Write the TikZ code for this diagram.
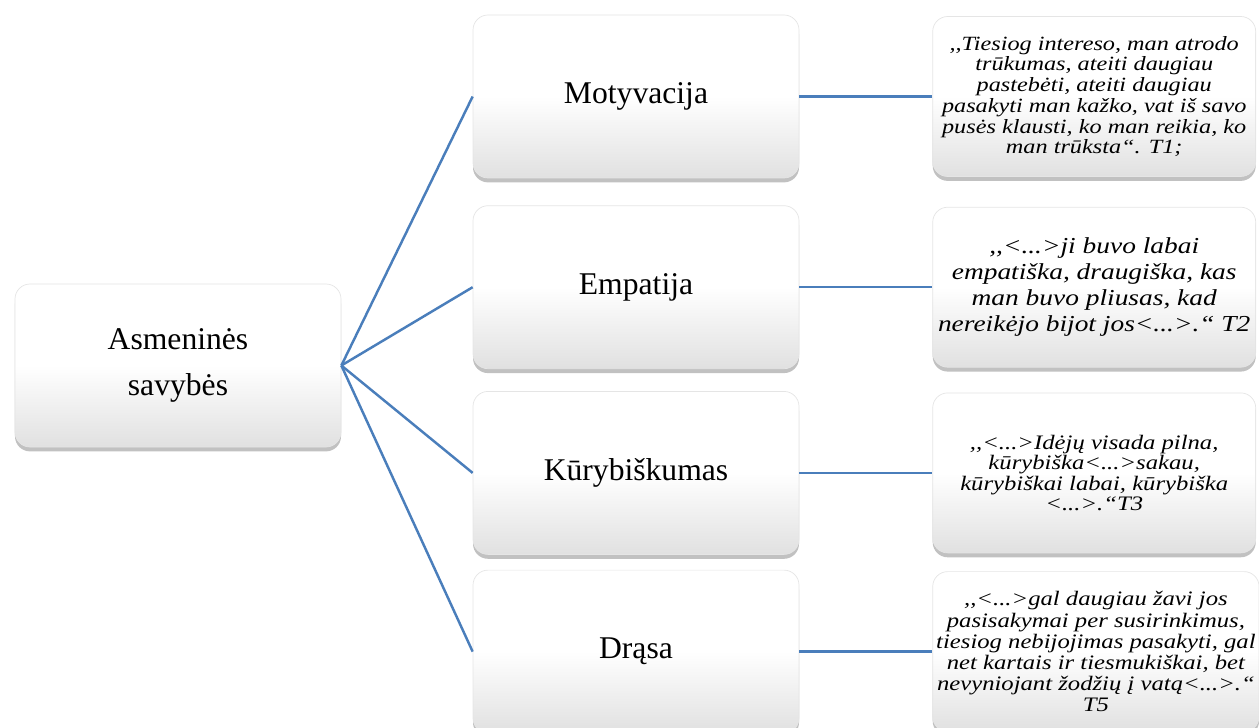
\documentclass[tikz,border=0pt]{standalone}
\usepackage{fontspec}
\setmainfont{Liberation Serif}
\newfontfamily\quotefont[FakeStretch=1.2]{Liberation Serif}
\usepackage{tikz}
\usetikzlibrary{positioning, shadows}
\definecolor{linkblue}{HTML}{4A7EBB}

\tikzset{
  box/.style={rectangle, rounded corners=0.3cm, minimum width=6.52cm, minimum height=3.26cm,
    draw=black!10, top color=white, bottom color=black!12, middle color=white,
    drop shadow={shadow xshift=0pt, shadow yshift=-2.5pt, fill=black!70, opacity=0.35},
    align=center, font=\fontsize{18}{26}\selectfont},
  quotebox/.style={box, minimum width=6.46cm, minimum height=3.2cm, inner sep=2pt},
  link/.style={draw=linkblue, line width=1.4pt}
}

\begin{document}
\begin{tikzpicture}
    \useasboundingbox (0,0) rectangle (25.18,-14.56);

    \node[box] (root) at (3.56,-7.31) {Asmeninės\\savybės};
    \node[box] (mot) at (12.72,-1.93) {Motyvacija};
    \node[box] (emp) [below=0.54cm of mot] {Empatija};
    \node[box] (kur) [below=0.44cm of emp] {Kūrybiškumas};
    \node[box] (dra) [below=0.30cm of kur] {Drąsa};

    % citatos
    \node[quotebox, font=\quotefont\itshape\fontsize{11.5}{11.8}\selectfont] (q1) [right=2.66cm of mot]
        {,{},Tiesiog intereso, man atrodo\\trūkumas, ateiti daugiau\\pastebėti, ateiti daugiau\\pasakyti man kažko, vat iš savo\\pusės klausti, ko man reikia, ko\\man trūksta“. T1;};
    \node[quotebox, font=\quotefont\itshape\fontsize{13}{14.8}\selectfont] (q2) [right=2.66cm of emp]
        {,{},<...>ji buvo labai\\empatiška, draugiška, kas\\man buvo pliusas, kad\\nereikėjo bijot jos<...>.“ T2};
    \node[quotebox, font=\quotefont\itshape\fontsize{11.7}{11.7}\selectfont] (q3) [right=2.66cm of kur]
        {,{},<...>Idėjų visada pilna,\\kūrybiška<...>sakau,\\kūrybiškai labai, kūrybiška\\<...>.“T3};
    \node[quotebox, font=\quotefont\itshape\fontsize{11.7}{12}\selectfont] (q4) [right=2.66cm of dra]
        {,{},<...>gal daugiau žavi jos\\pasisakymai per susirinkimus,\\tiesiog nebijojimas pasakyti, gal\\net kartais ir tiesmukiškai, bet\\nevyniojant žodžių į vatą<...>.“\\T5};

    \draw[link] (root.east) -- (mot.west);
    \draw[link] (root.east) -- (emp.west);
    \draw[link] (root.east) -- (kur.west);
    \draw[link] (root.east) -- (dra.west);

    \draw[link] (mot.east) -- (q1.west);
    \draw[link] (emp.east) -- (q2.west);
    \draw[link] (kur.east) -- (q3.west);
    \draw[link] (dra.east) -- (q4.west);
\end{tikzpicture}
\end{document}
